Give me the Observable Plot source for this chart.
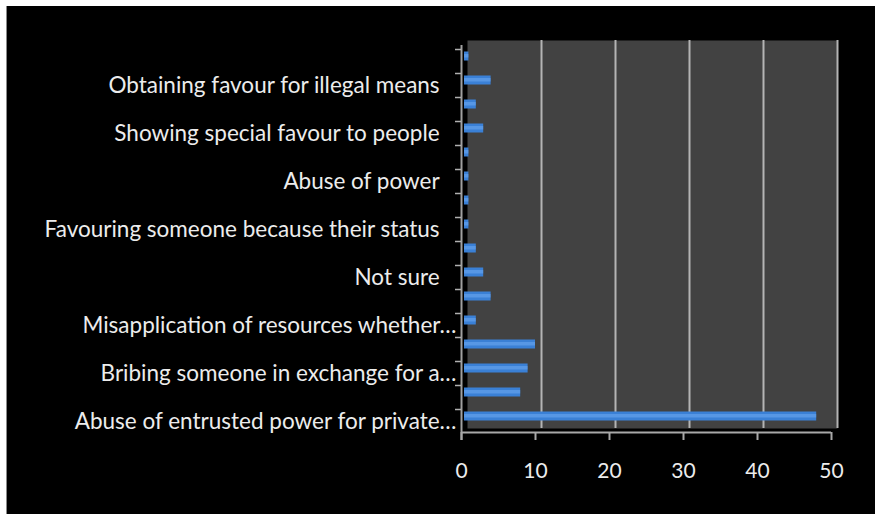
<!DOCTYPE html>
<html>
<head>
<meta charset="utf-8">
<script src="https://cdn.jsdelivr.net/npm/d3@7"></script>
<script src="https://cdn.jsdelivr.net/npm/@observablehq/plot@0.6"></script>
<style>
  html, body { margin: 0; padding: 0; background: #ffffff; }
  #wrap { padding: 6px 0 0 6px; width: 869px; height: 508px; }
  #chart { border-left: 1px solid #8a8a8a; width: 868px; height: 508px; background: #000; }
  svg { display: block; }
</style>
</head>
<body>
<div id="wrap"><div id="chart"></div></div>
<script>
// Categories, top to bottom (only every other one carries a visible label)
const categories = [
  "Other response A",
  "Obtaining favour for illegal means",
  "Other response B",
  "Showing special favour to people",
  "Other response C",
  "Abuse of power",
  "Other response D",
  "Favouring someone because their status",
  "Other response E",
  "Not sure",
  "Other response F",
  "Misapplication of resources whether…",
  "Other response G",
  "Bribing someone in exchange for a…",
  "Other response H",
  "Abuse of entrusted power for private…"
];
const tickLabels = [
  "",
  "Obtaining favour for illegal means",
  "",
  "Showing special favour to people",
  "",
  "Abuse of power",
  "",
  "Favouring someone because their status",
  "",
  "Not sure",
  "",
  "Misapplication of resources whether…",
  "",
  "Bribing someone in exchange for a…",
  "",
  "Abuse of entrusted power for private…"
];
const values = [1, 4, 2, 3, 1, 1, 1, 1, 2, 3, 4, 2, 10, 9, 8, 48];
const xTicks = [0, 10, 20, 30, 40, 50];

const data = categories.map((c, i) => ({category: c, value: values[i]}));
const labelOf = d => {
  const t = tickLabels[categories.indexOf(d)];
  return t && !t.endsWith("…") ? t + "\u2002\u2005" : t;
};

const chart = Plot.plot({
  width: 868,
  height: 508,
  marginLeft: 454,
  marginRight: 44,
  marginTop: 37,
  marginBottom: 86,
  style: {background: "#000", color: "#eee", fontFamily: "Lato, 'Open Sans', sans-serif"},
  x: {domain: [xTicks[0], xTicks[xTicks.length - 1]], label: null},
  y: {domain: categories, padding: 0, label: null},
  marks: [
    // back wall
    Plot.frame({fill: "#424242", dx: 6, insetTop: -3}),
    Plot.gridX(xTicks.slice(1), {stroke: "#b4b4b4", strokeOpacity: 1, strokeWidth: 2, dx: 6, insetTop: -3}),
    // floor front edge
    Plot.ruleY([categories[categories.length - 1]], {x1: xTicks[0], x2: xTicks[xTicks.length - 1], dy: 16, stroke: "#a8a8a8", strokeWidth: 2}),
    // left axis line
    Plot.ruleX([xTicks[0]], {stroke: "#a0a0a0", strokeWidth: 2, insetBottom: -12, insetTop: 2}),
    // bars
    Plot.barX(data, {y: "category", x: "value", fill: "#3a80d6", insetTop: 7.5, insetBottom: 7.5, insetLeft: 3}),
    Plot.barX(data, {y: "category", x: "value", fill: "#6aa6ee", insetTop: 10, insetBottom: 10.5, insetLeft: 3, fillOpacity: 0.6}),
    // y ticks
    Plot.axisY({tickSize: 6, tickFormat: null, dy: -7, stroke: "#b0b0b0", strokeWidth: 1.5, label: null}),
    // y labels
    Plot.axisY({tickSize: 0, tickPadding: 5, dy: 5, tickFormat: labelOf, fontSize: 22.5, fill: "#ececec", label: null}),
    // x axis
    Plot.axisX(xTicks, {tickSize: 8, dy: 4, tickPadding: 23, fontSize: 21, stroke: "#a8a8a8", fill: "#ececec", strokeWidth: 2, label: null})
  ]
});
document.getElementById("chart").appendChild(chart);
</script>
</body>
</html>
